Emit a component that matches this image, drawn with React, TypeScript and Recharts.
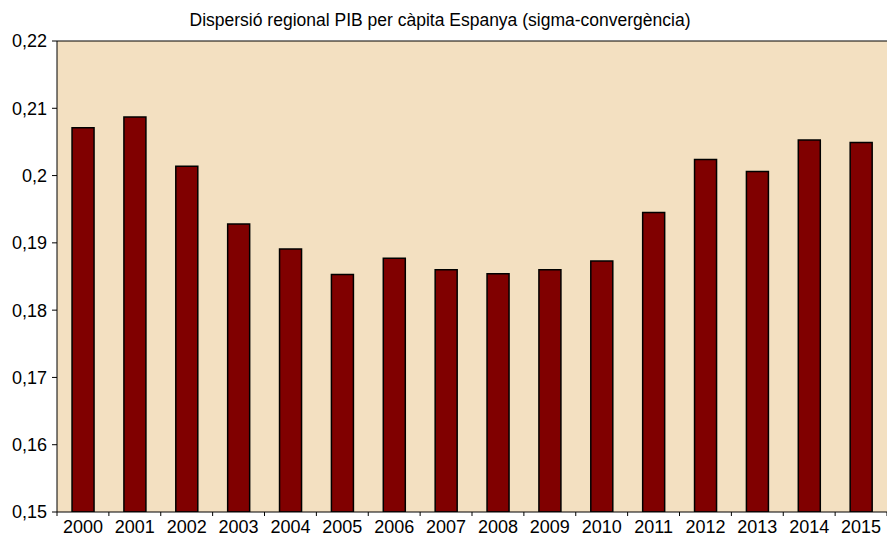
import React from 'react';
import { BarChart, Bar, XAxis, YAxis, CartesianGrid, ReferenceLine } from 'recharts';

// Dispersió regional PIB per càpita (sigma-convergència)
const years = ['2000', '2001', '2002', '2003', '2004', '2005', '2006', '2007', '2008', '2009', '2010', '2011', '2012', '2013', '2014', '2015'];
const sigma = [0.2071, 0.2087, 0.2014, 0.1928, 0.1891, 0.1853, 0.1877, 0.186, 0.1854, 0.186, 0.1873, 0.1945, 0.2024, 0.2006, 0.2053, 0.2049];
const yTicks = [0.15, 0.16, 0.17, 0.18, 0.19, 0.2, 0.21, 0.22];

const data = years.map((year, i) => ({ year, sigma: sigma[i] }));

const FONT = '"Liberation Sans", Arial, sans-serif';
const CHART_W = 887;
const CHART_H = 536;
const Y_AXIS_W = 57;
const BAND = (CHART_W - Y_AXIS_W) / years.length;

const fmt = (v: number) => String(Math.round(v * 100) / 100).replace('.', ',');

// year label plus a tick mark on the category boundary (left side)
const YearTick = (props: any) => {
    const { x, y, payload, index } = props;
    const axisY = y - 8;
    const left = x - BAND / 2;
    return (
        <g>
            <line x1={left} y1={axisY} x2={left} y2={axisY + 4} stroke="#000" />
            {index === years.length - 1 && (
                <line x1={left + BAND} y1={axisY} x2={left + BAND} y2={axisY + 4} stroke="#000" />
            )}
            <text x={x} y={y} dy="0.71em" textAnchor="middle" fontSize={18} fill="#000" fontFamily={FONT}>
                {payload.value}
            </text>
        </g>
    );
};

const App: React.FC = () => {
    return (
        <div style={{ position: 'absolute', left: 0, top: 0, width: CHART_W, height: CHART_H, background: '#fff' }}>
            <div
                style={{
                    position: 'absolute', top: 10, left: 0, width: 880, textAlign: 'center',
                    fontFamily: FONT, fontSize: 17.5, color: '#000', lineHeight: '20px',
                }}
            >
                Dispersió regional PIB per càpita Espanya (sigma-convergència)
            </div>
            <BarChart
                width={CHART_W}
                height={CHART_H}
                data={data}
                margin={{ top: 41, right: 0, left: 0, bottom: 0 }}
                barCategoryGap="29%"
            >
                <CartesianGrid horizontal={false} vertical={false} fill="#F3E0C1" />
                <XAxis
                    dataKey="year"
                    height={24}
                    interval={0}
                    tickLine={false}
                    tickSize={4}
                    tickMargin={4}
                    axisLine={{ stroke: '#000' }}
                    tick={<YearTick />}
                />
                <YAxis
                    width={Y_AXIS_W}
                    domain={[0.15, 0.22]}
                    ticks={yTicks}
                    interval={0}
                    allowDataOverflow
                    tickFormatter={fmt}
                    tickSize={5}
                    tickMargin={5}
                    tick={{ fontSize: 18, fill: '#000', fontFamily: FONT }}
                    axisLine={{ stroke: '#000' }}
                    tickLine={{ stroke: '#000' }}
                />
                <ReferenceLine y={0.22} stroke="#000" />
                <Bar dataKey="sigma" fill="#800000" stroke="#000" strokeWidth={1.5} isAnimationActive={false} />
            </BarChart>
        </div>
    );
};

export default App;
